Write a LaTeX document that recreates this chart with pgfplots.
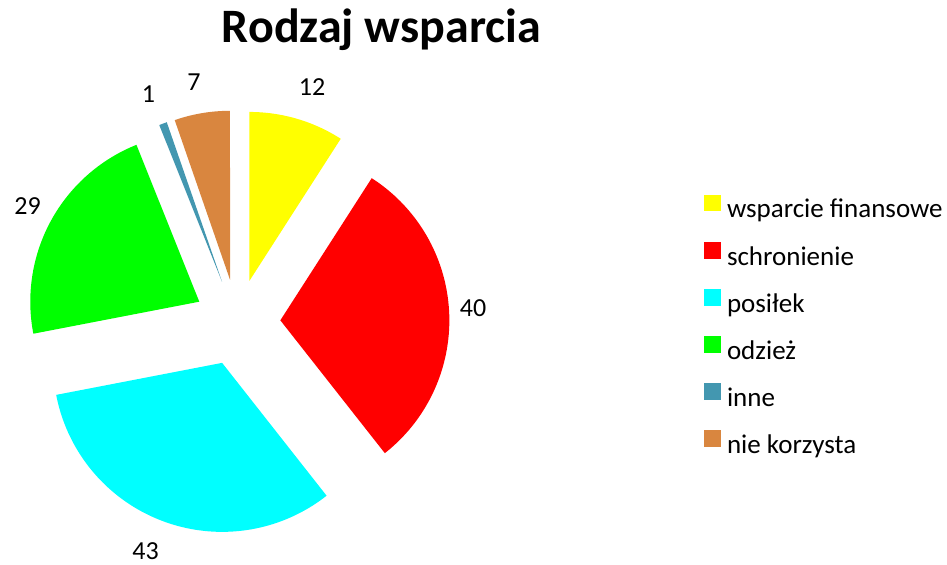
\documentclass[border=0pt]{standalone}
\usepackage{pgfplots}
\pgfplotsset{compat=1.18}
\usepackage{pgfplotstable}
\usepackage{fontspec}
\setmainfont{Carlito}

\definecolor{cYel}{HTML}{FFFF00}
\definecolor{cRed}{HTML}{FF0000}
\definecolor{cCya}{HTML}{00FFFF}
\definecolor{cGre}{HTML}{00FF00}
\definecolor{cBlu}{HTML}{4397B0}
\definecolor{cOra}{HTML}{D9863F}

\pgfplotstableread{
idx value
0 12
1 40
2 43
3 29
4 1
5 7
}\piedata

\begin{document}
\begin{tikzpicture}
\pgfplotstablegetelem{0}{value}\of\piedata \let\vA\pgfplotsretval
\pgfplotstablegetelem{1}{value}\of\piedata \let\vB\pgfplotsretval
\pgfplotstablegetelem{2}{value}\of\piedata \let\vC\pgfplotsretval
\pgfplotstablegetelem{3}{value}\of\piedata \let\vD\pgfplotsretval
\pgfplotstablegetelem{4}{value}\of\piedata \let\vE\pgfplotsretval
\pgfplotstablegetelem{5}{value}\of\piedata \let\vF\pgfplotsretval
\pgfmathsetmacro\tot{\vA+\vB+\vC+\vD+\vE+\vF}
\def\cx{237.2}\def\cy{-322.4}\def\R{169}\def\D{43.2}
\pgfmathsetmacro\sA{90}\pgfmathsetmacro\eA{\sA-\vA/\tot*360}
\pgfmathsetmacro\sB{\eA}\pgfmathsetmacro\eB{\sB-\vB/\tot*360}
\pgfmathsetmacro\sC{\eB}\pgfmathsetmacro\eC{\sC-\vC/\tot*360}
\pgfmathsetmacro\sD{\eC}\pgfmathsetmacro\eD{\sD-\vD/\tot*360}
\pgfmathsetmacro\sE{\eD}\pgfmathsetmacro\eE{\sE-\vE/\tot*360}
\pgfmathsetmacro\sF{\eE}\pgfmathsetmacro\eF{\sF-\vF/\tot*360}
\pgfmathsetmacro\xA{\cx+\D*cos((\sA+\eA)/2)}\pgfmathsetmacro\yA{\cy+\D*sin((\sA+\eA)/2)}
\pgfmathsetmacro\xB{\cx+\D*cos((\sB+\eB)/2)}\pgfmathsetmacro\yB{\cy+\D*sin((\sB+\eB)/2)}
\pgfmathsetmacro\xC{\cx+\D*cos((\sC+\eC)/2)}\pgfmathsetmacro\yC{\cy+\D*sin((\sC+\eC)/2)}
\pgfmathsetmacro\xD{\cx+\D*cos((\sD+\eD)/2)}\pgfmathsetmacro\yD{\cy+\D*sin((\sD+\eD)/2)}
\pgfmathsetmacro\xE{\cx+\D*cos((\sE+\eE)/2)}\pgfmathsetmacro\yE{\cy+\D*sin((\sE+\eE)/2)}
\pgfmathsetmacro\xF{\cx+\D*cos((\sF+\eF)/2)}\pgfmathsetmacro\yF{\cy+\D*sin((\sF+\eF)/2)}
\useasboundingbox (0,0) rectangle (947bp,565bp);
\begin{axis}[
  at={(0,0)}, anchor=south west,
  scale only axis, width=947bp, height=565bp,
  xmin=0, xmax=947, ymin=-565, ymax=0,
  hide axis, clip=false,
  legend image code/.code={\fill[#1] (0bp,0bp) rectangle (17bp,16.5bp);},
  legend style={at={(axis cs:704,-195)}, anchor=north west, draw=none, fill=none,
    inner sep=0pt, outer sep=0pt, row sep=19.1bp, column sep=6bp,
    font=\fontsize{27bp}{32bp}\selectfont,
    nodes={inner sep=0pt, outer sep=0pt, text height=18bp, text depth=5bp},
    cells={anchor=west}},
]
\addplot[fill=cYel, draw=none, domain=\eA:\sA, samples=60, variable=\t] ({\xA+\R*cos(\t)},{\yA+\R*sin(\t)}) -- (axis cs:\xA,\yA) -- cycle;
\addlegendentry{wsparcie finansowe}
\addplot[fill=cRed, draw=none, domain=\eB:\sB, samples=80, variable=\t] ({\xB+\R*cos(\t)},{\yB+\R*sin(\t)}) -- (axis cs:\xB,\yB) -- cycle;
\addlegendentry{schronienie}
\addplot[fill=cCya, draw=none, domain=\eC:\sC, samples=80, variable=\t] ({\xC+\R*cos(\t)},{\yC+\R*sin(\t)}) -- (axis cs:\xC,\yC) -- cycle;
\addlegendentry{posiłek}
\addplot[fill=cGre, draw=none, domain=\eD:\sD, samples=60, variable=\t] ({\xD+\R*cos(\t)},{\yD+\R*sin(\t)}) -- (axis cs:\xD,\yD) -- cycle;
\addlegendentry{odzież}
\addplot[fill=cBlu, draw=none, domain=\eE:\sE, samples=10, variable=\t] ({\xE+\R*cos(\t)},{\yE+\R*sin(\t)}) -- (axis cs:\xE,\yE) -- cycle;
\addlegendentry{inne}
\addplot[fill=cOra, draw=none, domain=\eF:\sF, samples=30, variable=\t] ({\xF+\R*cos(\t)},{\yF+\R*sin(\t)}) -- (axis cs:\xF,\yF) -- cycle;
\addlegendentry{nie korzysta}
\begin{scope}[every node/.style={font=\fontsize{26bp}{30bp}\selectfont, anchor=base, inner sep=0pt}]
\node at (axis cs:312,-95.7) {\vA};
\node at (axis cs:473,-317) {\vB};
\node at (axis cs:145.5,-559.5) {\vC};
\node at (axis cs:27.5,-214.5) {\vD};
\node at (axis cs:148.5,-102.2) {\vE};
\node at (axis cs:194,-90.8) {\vF};
\end{scope}
\node[font=\bfseries\fontsize{48bp}{54bp}\selectfont, anchor=base, inner sep=0pt] at (axis cs:381.5,-43) {Rodzaj wsparcia};
\end{axis}
\end{tikzpicture}
\end{document}
